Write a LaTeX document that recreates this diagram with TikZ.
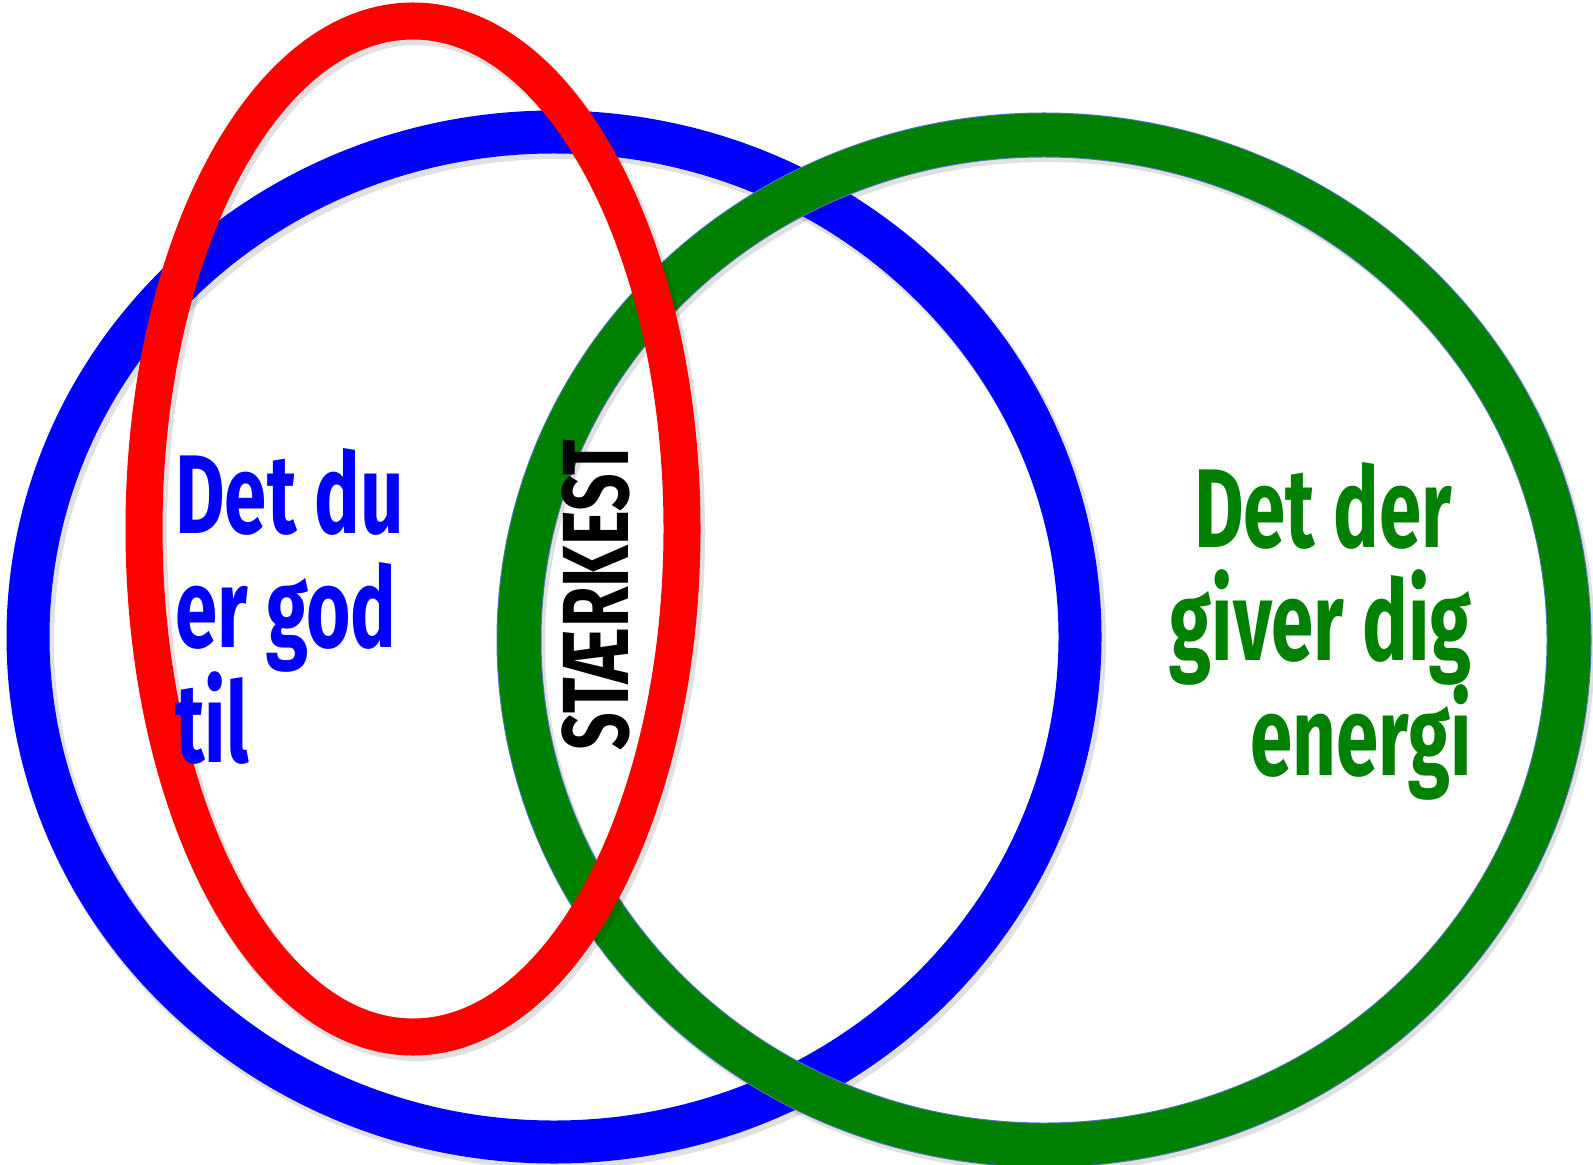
\documentclass[tikz,border=0pt]{standalone}
\usepackage{fontspec}
\setmainfont{Fira Sans}
\definecolor{vblue}{RGB}{0,0,255}
\definecolor{vred}{RGB}{255,0,0}
\definecolor{vgreen}{RGB}{0,128,0}
\definecolor{vedge}{RGB}{80,120,190}
\tikzset{
  shadowring/.style={draw=black, opacity=0.12},
  bluetxt/.style={text=vblue, inner sep=0pt, font=\bfseries\fontsize{56}{57}\selectfont},
  greentxt/.style={text=vgreen, inner sep=0pt, font=\bfseries\fontsize{56}{57}\selectfont},
  bigtxt/.style={text=black, inner sep=0pt, font=\bfseries\fontsize{47}{48}\selectfont}
}
\begin{document}
\begin{tikzpicture}[x=0.5pt,y=-0.5pt]
\useasboundingbox[fill=white] (0,0) rectangle (1593,1165);
% blue ring
\draw[shadowring, line width=23pt] (557,641) ellipse [x radius=263pt, y radius=252.5pt];
\draw[vblue, line width=21.5pt] (554,637) ellipse [x radius=263pt, y radius=252.5pt];
% green ring
\draw[shadowring, line width=23pt] (1047,644) ellipse [x radius=262.5pt, y radius=252.5pt];
\draw[vedge, line width=22.5pt] (1044,640) ellipse [x radius=262.5pt, y radius=252.5pt];
\draw[vgreen, line width=21.5pt] (1044,640) ellipse [x radius=262.5pt, y radius=252.5pt];
% red ring
\draw[shadowring, line width=20pt] (416,533) ellipse [x radius=134.5pt, y radius=254pt];
\draw[vred, line width=18.5pt] (413,529) ellipse [x radius=134.5pt, y radius=254pt];
% texts
\node[bluetxt, anchor=base west] (b1) at (175,533) {\scalebox{0.68}[1]{Det du}};
\node[bluetxt, anchor=base west] (b2) at (175,647) {\scalebox{0.68}[1]{er god}};
\node[bluetxt, anchor=base west] (b3) at (175,762) {\scalebox{0.68}[1]{til}};
\node[greentxt, anchor=base east] (g1) at (1452,547) {\scalebox{0.68}[1]{Det der}};
\node[greentxt, anchor=base east] (g2) at (1472,660) {\scalebox{0.68}[1]{giver dig}};
\node[greentxt, anchor=base east] (g3) at (1472,775) {\scalebox{0.68}[1]{energi}};
\node[bigtxt, rotate=90] (s) at (596,595) {\scalebox{0.70}[1]{STÆRKEST}};
\end{tikzpicture}
\end{document}
